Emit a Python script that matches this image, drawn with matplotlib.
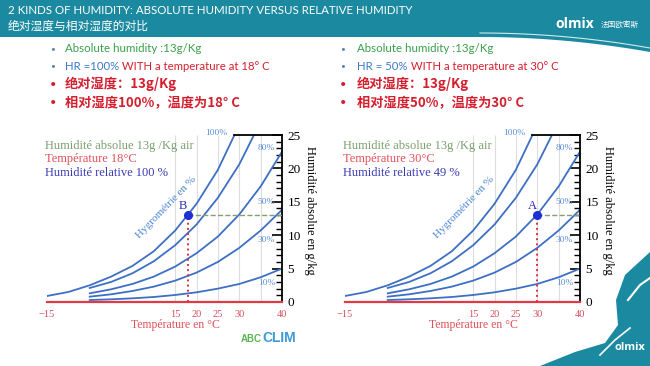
import numpy as np
import matplotlib
matplotlib.use("Agg")
from matplotlib import pyplot as plt
from matplotlib.ticker import MultipleLocator
from matplotlib.patches import Polygon

plt.rcParams['font.family'] = ['Liberation Serif', 'Noto Sans CJK SC']

# curves (g/kg)
temps_100 = [-15, -10, -5, 0, 5, 10, 15, 20, 25, 30]
hum_100 = [0.9, 1.5, 2.5, 3.8, 5.4, 7.6, 10.7, 14.7, 19.8, 26.5]
temps_rh = [-5, 0, 5, 10, 15, 20, 25, 30, 35, 40]
hum_80 = [2.1, 3.0, 4.3, 6.1, 8.5, 11.6, 15.6, 20.6, 27.0, 35.0]
hum_50 = [1.3, 1.9, 2.7, 3.8, 5.3, 7.3, 9.8, 13.1, 17.3, 22.5]
hum_30 = [0.8, 1.15, 1.65, 2.3, 3.2, 4.4, 6.0, 8.1, 10.7, 13.8]
hum_10 = [0.3, 0.4, 0.55, 0.75, 1.05, 1.45, 2.0, 2.7, 3.7, 5.0]

x_ticks = [-15, 15, 20, 25, 30, 40]
grid_temps = [15, 20, 25, 30, 35]
rh_labels = ["100%", "80%", "50%", "30%", "10%"]

# the two cases
point_temp = [18, 30]
point_hum = [13, 13]
point_name = ["B", "A"]
rh_text = ["100 %", "49 %"]
hr_text = ["HR =100%", "HR = 50%"]
rh_cn = ["100%", "50%"]

title_en = "2 KINDS OF HUMIDITY: ABSOLUTE HUMIDITY VERSUS RELATIVE HUMIDITY"
title_cn = "绝对湿度与相对湿度的对比"

TEAL = '#1b8aa0'
BLUE = '#3d6fc4'
RED = '#e03a48'
CN_RED = '#d4202e'

fig = plt.figure(figsize=(6.5, 3.66), dpi=100)

# background layer in pixel coords
bg = fig.add_axes([0, 0, 1, 1], zorder=0)
bg.set_xlim(0, 650)
bg.set_ylim(366, 0)
bg.axis('off')

xs = np.linspace(480, 650, 40)
edge = 37 + 15 * ((xs - 480) / 170) ** 2
bg.add_patch(Polygon([(0, 0), (650, 0)] + list(zip(xs[::-1], edge[::-1])) + [(0, 37)],
                     closed=True, color=TEAL, lw=0))
bg.plot(xs, edge - 4, color='white', lw=0.8, alpha=0.8)
bg.text(8, 11, title_en, color='white', fontsize=8.3, va='center', ha='left', family=['Lato'])
bg.text(8, 26, title_cn, color='white', fontsize=8.5, va='center', ha='left',
        family=['Noto Sans CJK SC'])
bg.text(575, 24, "olmix", color='white', fontsize=10, fontweight='bold', va='center', ha='center',
        family=['Open Sans'])
bg.text(620, 25, "法国欧密斯", color='white', fontsize=5.5, va='center', ha='center',
        family=['Noto Sans CJK SC'])

# bottom right decoration
bg.add_patch(Polygon([(540, 366), (575, 352), (605, 343), (618, 325), (616, 300), (625, 275),
                      (650, 252), (650, 366)], closed=True, color=TEAL, lw=0))
bg.plot([628, 640, 650], [300, 285, 278], color='white', lw=1.5)
bg.plot([600, 615, 630], [355, 340, 328], color='white', lw=1.2)
bg.text(630, 348, "olmix", color='white', fontsize=8, fontweight='bold', va='center', ha='center',
        family=['Open Sans'])

# ABCCLIM logo
bg.text(262, 339, "ABC", color='#5ab552', fontsize=7, fontweight='bold', va='center', ha='right',
        family=['Liberation Sans'])
bg.text(262, 338, "CLIM", color='#3d9ad6', fontsize=10, fontweight='bold', va='center', ha='left',
        family=['Liberation Sans'])

bullet_x = [53, 343]
text_x = [65, 357]
for k in range(2):
    bx, tx = bullet_x[k], text_x[k]
    bg.text(bx, 49, "•", color='#5b7fa8', fontsize=6, va='center', ha='center', family=['Lato'])
    bg.text(tx, 49, "Absolute humidity :13g/Kg", color='#3aa04a', fontsize=8.3, va='center',
            family=['Lato'])
    bg.text(bx, 66, "•", color='#5b7fa8', fontsize=6, va='center', ha='center', family=['Lato'])
    t = bg.text(tx, 66, hr_text[k], color='#3a7ac8', fontsize=8.2, va='center', family=['Lato'])
    bg.annotate(" WITH a temperature at %d° C" % point_temp[k], xy=(1, 0.5), xycoords=t,
                color=CN_RED, fontsize=8.2, va='center', family=['Lato'])
    bg.text(bx, 84, "•", color=CN_RED, fontsize=8, va='center', ha='center', family=['Lato'])
    bg.text(tx, 84, "绝对湿度：13g/Kg", color=CN_RED, fontsize=9.5, fontweight='bold',
            va='center', family=['Noto Sans CJK SC'])
    bg.text(bx, 103, "•", color=CN_RED, fontsize=8, va='center', ha='center', family=['Lato'])
    bg.text(tx, 103, "相对湿度%s，温度为%d° C" % (rh_cn[k], point_temp[k]), color=CN_RED,
            fontsize=9.5, fontweight='bold', va='center', family=['Noto Sans CJK SC'])

axes_left = [47 / 650, 345 / 650]
for k in range(2):
    ax = fig.add_axes([axes_left[k], 64 / 366, 235 / 650, 167 / 366], zorder=2)
    ax.patch.set_alpha(0)
    ax.set_xlim(-15, 40)
    ax.set_ylim(0, 25)

    ax.vlines(grid_temps, 0, 25, color='#dddddd', lw=0.8, zorder=0)

    for tt, hh in [(temps_100, hum_100), (temps_rh, hum_80), (temps_rh, hum_50),
                   (temps_rh, hum_30), (temps_rh, hum_10)]:
        ax.plot(tt, hh, color=BLUE, lw=1.3, zorder=2)

    x_top = np.interp(25, hum_100, temps_100)
    ax.plot([x_top, 40], [25, 25], color='black', lw=1.3, clip_on=False, zorder=3)
    ax.axhline(0, color=RED, lw=1.6, clip_on=False, zorder=3)

    t0, h0 = point_temp[k], point_hum[k]
    ax.plot([t0, 40], [h0, h0], ls='--', color='#85a070', lw=1, zorder=3)
    ax.plot([t0, t0], [0, h0], ls=':', color='#e0303a', lw=1.4, zorder=3)
    ax.plot([t0], [h0], 'o', color='#1f2fd6', ms=5.5, zorder=4)
    ax.text(t0 - 1.2, h0 + 1.4, point_name[k], color='#2a2ab0', fontsize=9, ha='center', va='center')

    for lab, (px, py) in zip(rh_labels, [(24.7, 25.3), (36.4, 23), (36.4, 15), (36.4, 9.3), (36.4, 2.8)]):
        ax.text(px, py, lab, color='#5b8fd6', fontsize=6.8, ha='center', va='center', clip_on=False)

    ax.text(13.0, 14.2, "Hygrométrie en %", color='#4a84d4', fontsize=8, rotation=46,
            rotation_mode='anchor', ha='center', va='center')

    ax.text(-0.01, 0.934, "Humidité absolue 13g /Kg air", transform=ax.transAxes,
            color='#7a9e6e', fontsize=9, va='center')
    ax.text(-0.01, 0.856, "Température %d°C" % t0, transform=ax.transAxes,
            color='#e0505a', fontsize=9, va='center')
    ax.text(-0.01, 0.774, "Humidité relative %s" % rh_text[k], transform=ax.transAxes,
            color='#3b3bb5', fontsize=9, va='center')

    for s in ['left', 'top', 'bottom']:
        ax.spines[s].set_visible(False)
    ax.spines['right'].set_linewidth(1.3)
    ax.yaxis.tick_right()
    ax.set_yticks([0, 5, 10, 15, 20, 25])
    ax.yaxis.set_minor_locator(MultipleLocator(1))
    ax.tick_params(axis='y', which='major', direction='in', length=7, width=1.2, labelsize=9.5, pad=4)
    ax.tick_params(axis='y', which='minor', direction='in', length=4, width=1)
    ax.set_xticks(x_ticks)
    ax.tick_params(axis='x', length=0, labelcolor='#d4505e', labelsize=7.5, pad=6)

    ax.text(0.545, -0.138, "Température en °C", transform=ax.transAxes, color='#e0505a',
            fontsize=8.5, ha='center', va='center')
    ax.text(1.119, 0.55, "Humidité absolue en g/kg", transform=ax.transAxes, color='black',
            fontsize=9, rotation=270, ha='center', va='center')

fig.savefig("out.png", dpi=100)
